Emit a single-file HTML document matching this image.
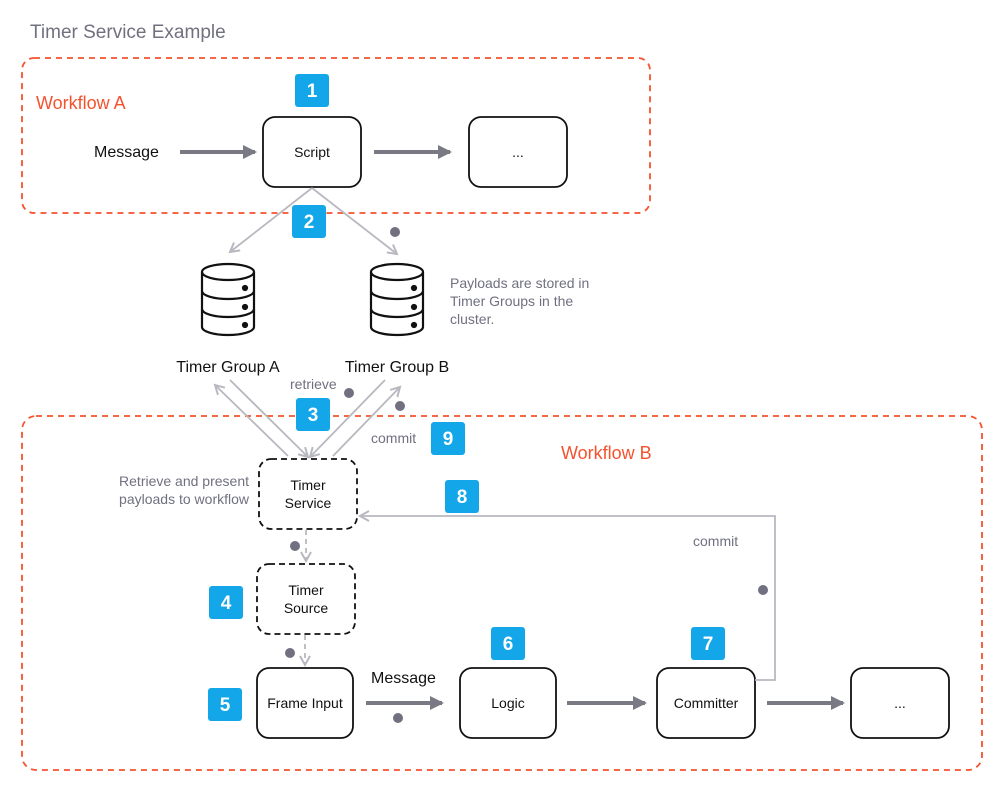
<!DOCTYPE html>
<html><head><meta charset="utf-8"><style>
body{margin:0;background:#fff}
text{font-family:"Liberation Sans",sans-serif}
</style></head><body>
<svg width="1005" height="791" viewBox="0 0 1005 791" xmlns="http://www.w3.org/2000/svg">
<defs>
<marker id="ah" markerWidth="16" markerHeight="16" refX="12" refY="8" orient="auto" markerUnits="userSpaceOnUse"><path d="M0,1 L14,8 L0,15 Z" fill="#7a7a84"/></marker>
<marker id="la" markerWidth="14" markerHeight="14" refX="11" refY="7" orient="auto" markerUnits="userSpaceOnUse"><path d="M2,2 L11,7 L2,12" fill="none" stroke="#b8b8c0" stroke-width="2"/></marker>
</defs>
<text x="30" y="38" font-size="19" fill="#707080">Timer Service Example</text>
<rect x="22" y="58" width="628" height="155" rx="12" fill="none" stroke="#f5522d" stroke-width="1.8" stroke-dasharray="6,5"/>
<rect x="22" y="416" width="960" height="354" rx="14" fill="none" stroke="#f5522d" stroke-width="1.8" stroke-dasharray="6,5"/>
<text x="36" y="109" font-size="18" fill="#f5522d">Workflow A</text>
<text x="561" y="459" font-size="18" fill="#f5522d">Workflow B</text>

<g fill="#fff" stroke="#111" stroke-width="1.8">
<rect x="263" y="117" width="98" height="70" rx="12"/>
<rect x="469" y="117" width="98" height="70" rx="12"/>
<rect x="257" y="668" width="96" height="70" rx="12"/>
<rect x="460" y="668" width="96" height="70" rx="12"/>
<rect x="657" y="668" width="98" height="70" rx="12"/>
<rect x="851" y="668" width="98" height="70" rx="12"/>
<rect x="259" y="459" width="98" height="70" rx="12" stroke-dasharray="6,4"/>
<rect x="257" y="564" width="98" height="70" rx="12" stroke-dasharray="6,4"/>
</g>
<g font-size="14" fill="#111" text-anchor="middle">
<text x="312" y="157">Script</text>
<text x="518" y="157">...</text>
<text x="305" y="708">Frame Input</text>
<text x="508" y="708">Logic</text>
<text x="706" y="708">Committer</text>
<text x="900" y="708">...</text>
<text x="308" y="490">Timer</text><text x="308" y="508">Service</text>
<text x="306" y="595">Timer</text><text x="306" y="613">Source</text>
</g>

<g stroke="#7a7a84" stroke-width="4" marker-end="url(#ah)">
<line x1="180" y1="152" x2="255" y2="152"/>
<line x1="374" y1="152" x2="450" y2="152"/>
<line x1="366" y1="703" x2="442" y2="703"/>
<line x1="567" y1="703" x2="645" y2="703"/>
<line x1="767" y1="703" x2="843" y2="703"/>
</g>
<text x="94" y="157" font-size="16" fill="#111">Message</text>
<text x="371" y="683" font-size="16" fill="#111">Message</text>

<g stroke="#b8b8c0" stroke-width="1.8" fill="none">
<line x1="312" y1="188" x2="230" y2="252" marker-end="url(#la)"/>
<line x1="312" y1="188" x2="397" y2="254" marker-end="url(#la)"/>
<line x1="230" y1="380" x2="308" y2="457" marker-end="url(#la)"/>
<line x1="288" y1="456" x2="215" y2="385" marker-end="url(#la)"/>
<line x1="385" y1="380" x2="310" y2="457" marker-end="url(#la)"/>
<line x1="333" y1="456" x2="400" y2="387" marker-end="url(#la)"/>
<path d="M755,680 L775,680 L775,516 L360,516" marker-end="url(#la)"/>
<line x1="306" y1="530" x2="306" y2="561" stroke-dasharray="5,4" marker-end="url(#la)"/>
<line x1="305" y1="635" x2="305" y2="665" stroke-dasharray="5,4" marker-end="url(#la)"/>
</g>

<g fill="#fff" stroke="#111" stroke-width="2.2">
<g transform="translate(228,0)">
<path d="M-26,272 L-26,327 A26,8 0 0 0 26,327 L26,272"/>
<ellipse cx="0" cy="272" rx="26" ry="8"/>
<path d="M-26,291 A26,8 0 0 0 26,291 M-26,309 A26,8 0 0 0 26,309" fill="none"/>
<circle cx="17" cy="288" r="2" fill="#111"/><circle cx="17" cy="307" r="2" fill="#111"/><circle cx="17" cy="325" r="2" fill="#111"/>
</g>
<g transform="translate(397,0)">
<path d="M-26,272 L-26,327 A26,8 0 0 0 26,327 L26,272"/>
<ellipse cx="0" cy="272" rx="26" ry="8"/>
<path d="M-26,291 A26,8 0 0 0 26,291 M-26,309 A26,8 0 0 0 26,309" fill="none"/>
<circle cx="17" cy="288" r="2" fill="#111"/><circle cx="17" cy="307" r="2" fill="#111"/><circle cx="17" cy="325" r="2" fill="#111"/>
</g>
</g>
<text x="228" y="372" font-size="16" fill="#111" text-anchor="middle">Timer Group A</text>
<text x="397" y="372" font-size="16" fill="#111" text-anchor="middle">Timer Group B</text>

<g font-size="14" fill="#707080">
<text x="450" y="288">Payloads are stored in</text>
<text x="450" y="306">Timer Groups in the</text>
<text x="450" y="324">cluster.</text>
<text x="290" y="389">retrieve</text>
<text x="371" y="443">commit</text>
<text x="693" y="546">commit</text>
<text x="249" y="486" text-anchor="end">Retrieve and present</text>
<text x="249" y="504" text-anchor="end">payloads to workflow</text>
</g>

<g fill="#707080">
<circle cx="395" cy="232" r="5"/><circle cx="349" cy="393" r="5"/><circle cx="400" cy="406" r="5"/>
<circle cx="295" cy="546" r="5"/><circle cx="290" cy="653" r="5"/><circle cx="398" cy="718" r="5"/>
<circle cx="763" cy="590" r="5"/>
</g>

<g fill="#13a6e8">
<rect x="295" y="74" width="34" height="33" rx="3"/>
<rect x="292" y="205" width="34" height="33" rx="3"/>
<rect x="296" y="398" width="34" height="33" rx="3"/>
<rect x="431" y="422" width="34" height="33" rx="3"/>
<rect x="445" y="480" width="34" height="33" rx="3"/>
<rect x="209" y="586" width="34" height="33" rx="3"/>
<rect x="208" y="688" width="34" height="33" rx="3"/>
<rect x="491" y="627" width="34" height="33" rx="3"/>
<rect x="691" y="627" width="34" height="33" rx="3"/>
</g>
<g font-size="19" font-weight="bold" fill="#fff" text-anchor="middle">
<text x="312" y="97">1</text><text x="309" y="228">2</text><text x="313" y="421">3</text>
<text x="448" y="445">9</text><text x="462" y="503">8</text><text x="226" y="609">4</text>
<text x="225" y="711">5</text><text x="508" y="650">6</text><text x="708" y="650">7</text>
</g>
</svg>
</body></html>
